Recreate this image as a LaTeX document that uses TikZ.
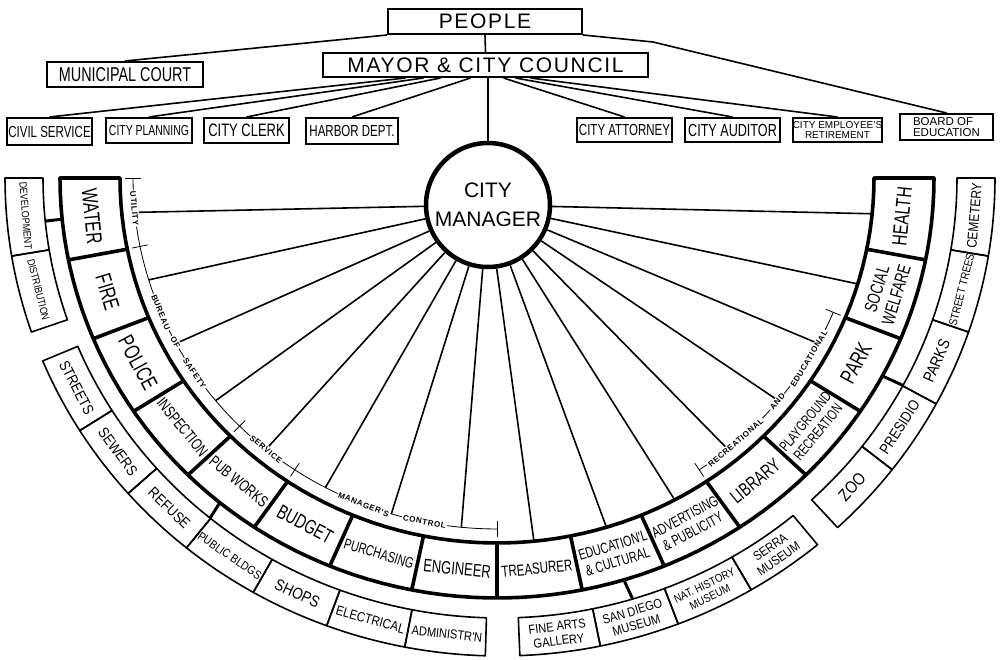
\documentclass[tikz,border=0pt]{standalone}
\usepackage{fontspec}
\setmainfont{Liberation Sans}
\newfontfamily\handfont[FakeStretch=0.72]{Liberation Sans}
\newfontfamily\subfont[FakeStretch=0.85]{Liberation Sans}
\newfontfamily\spacedfont[LetterSpace=8]{Liberation Sans}
\newfontfamily\tagfont[LetterSpace=8]{Liberation Sans}
\usetikzlibrary{calc}
\newcommand{\setsz}[1]{\fontsize{#1}{#1}\selectfont\setlength\baselineskip{1.12\baselineskip}}
\tikzset{
  topbox/.style={draw, line width=2pt, inner sep=0pt, align=center},
  conn/.style={line width=1.6pt},
  thickedge/.style={line width=3.6pt, line join=round},
  thinedge/.style={line width=1.6pt, line join=round},
  guide/.style={line width=0.8pt},
  tag/.style={font=\tagfont\bfseries\fontsize{8}{8}\selectfont, fill=white, inner sep=1.2pt},
}

\begin{document}
\begin{tikzpicture}[x=1pt, y=1pt]
  \useasboundingbox (0,0) rectangle (1002,-660);

  %--- People, council and court ---
  \node[topbox, font=\spacedfont\setsz{21}, minimum width=194pt, minimum height=25pt] (people) at (485,-21.5) {PEOPLE};
  \node[topbox, font=\spacedfont\setsz{21}, minimum width=325pt, minimum height=24pt] (mayor) at (485.5,-65) {MAYOR \& CITY COUNCIL};
  \node[topbox, font=\handfont\setsz{20}, minimum width=156pt, minimum height=25pt] (court) at (125,-74.5) {MUNICIPAL COURT};

  % Offices under the council
  \node[topbox, font=\handfont\setsz{16}, minimum width=85pt, minimum height=27pt] (civil) at (49.5,-131.5) {CIVIL SERVICE};
  \node[topbox, font=\handfont\setsz{14.5}, minimum width=86pt, minimum height=25pt] (planning) at (149,-130.5) {CITY PLANNING};
  \node[topbox, font=\handfont\setsz{18}, minimum width=85pt, minimum height=25pt] (clerk) at (246.5,-130.5) {CITY CLERK};
  \node[topbox, font=\handfont\setsz{16}, minimum width=92pt, minimum height=26pt] (harbor) at (352,-131) {HARBOR DEPT.};
  \node[topbox, font=\handfont\setsz{16}, minimum width=95pt, minimum height=24pt] (attorney) at (624.5,-130) {CITY ATTORNEY};
  \node[topbox, font=\handfont\setsz{17.5}, minimum width=95pt, minimum height=24pt] (auditor) at (732.5,-130) {CITY AUDITOR};
  \node[topbox, font=\fontsize{10}{10}\selectfont, minimum width=89pt, minimum height=24pt] (retirement) at (837.5,-130) {CITY EMPLOYEE'S\\RETIREMENT};
  \node[topbox, font=\fontsize{11.5}{10.5}\selectfont, align=left, minimum width=93pt, minimum height=26pt] (education) at (946.5,-127) {BOARD OF\\EDUCATION};

  \draw[conn] (people.south) -- (mayor.north);
  \draw[conn] (people.south west) -- (court.north);
  \coordinate (bend) at (653,-42);
  \draw[conn] (people.south east) -- (bend) -- (education.north);
  \foreach \tgt/\dx in {civil/-80, planning/-62, clerk/-45, harbor/-15, attorney/18, auditor/30, retirement/45}
    \draw[conn] ($(mayor.south)+(\dx,0)$) -- (\tgt.north);

  %--- City manager ---
  \node[circle, draw, line width=4.5pt, minimum size=124pt, inner sep=0pt, font=\fontsize{21}{29}\selectfont, align=center] (cm) at (488,-205) {CITY\\MANAGER};
  \draw[conn] (mayor.south -| cm.north) -- (cm.north);

  %--- Department ring ---
  \draw[thickedge] plot[domain=180:360, samples=90] ({497+377*cos(\x)},{-178+365*sin(\x)})
    -- plot[domain=360:180, samples=90] ({497+437*cos(\x)},{-178+420*sin(\x)}) -- cycle;
  \foreach \k in {1,...,15}{
    \pgfmathsetmacro\ang{180+11.25*\k}
    \draw[thickedge] ({497+377*cos(\ang)},{-178+365*sin(\ang)}) -- ({497+437*cos(\ang)},{-178+420*sin(\ang)});
  }

  % Departments and lines from the manager
  \foreach \i/\nm/\txt/\fs/\ea/\eb in {
      0/water/WATER/22/364/351,
      1/fire/FIRE/22/364/351,
      2/police/POLICE/22/364/351,
      3/inspection/INSPECTION/16/364/351,
      4/pubworks/PUB WORKS/16/364/351,
      5/budget/BUDGET/20/364/351,
      6/purchasing/PURCHASING/15/364/351,
      7/engineer/ENGINEER/18/364/351,
      8/treasurer/TREASURER/16/377/365,
      9/educational/{EDUCATION'L\\\& CULTURAL}/15/377/365,
      10/advertising/{ADVERTISING\\\& PUBLICITY}/15/377/365,
      11/library/LIBRARY/19/364/351,
      12/playground/{PLAYGROUND\\RECREATION}/14.5/364/351,
      13/park/PARK/22/364/351,
      14/welfare/{SOCIAL\\WELFARE}/18/377/365,
      15/health/HEALTH/21/377/365}{
    \pgfmathsetmacro\ang{185.625+11.25*\i}
    \pgfmathsetmacro\rot{\ang-270}
    \node[font=\handfont\setsz{\fs}, rotate=\rot, align=center] (\nm) at ({497+407*cos(\ang)},{-178+392.5*sin(\ang)}) {\txt};
    \coordinate (\nm-in) at ({497+\ea*cos(\ang)},{-178+\eb*sin(\ang)});
    \draw[conn] (cm) -- (\nm-in);
  }

  %--- Divisions (outer ring) ---
  \foreach \sa/\nm/\txt/\fs in {
      180/development/DEVELOPMENT/10.5,
      189.4/distribution/DISTRIBUTION/10.5,
      202.5/streets/STREETS/15,
      211.9/sewers/SEWERS/15,
      221.3/refuse/REFUSE/15,
      230.7/publicbldgs/PUBLIC BLDGS/12,
      240.1/shops/SHOPS/16,
      249.5/electrical/ELECTRICAL/13.5,
      258.9/administration/ADMINISTR'N/13,
      272.3/finearts/{FINE ARTS\\GALLERY}/13,
      281.7/sandiego/{SAN DIEGO\\MUSEUM}/13,
      291.1/nathistory/{NAT. HISTORY\\MUSEUM}/11.5,
      300.5/serra/{SERRA\\MUSEUM}/13,
      313/zoo/ZOO/17,
      322.4/presidio/PRESIDIO/15,
      331.8/parks/PARKS/16,
      341.2/streettrees/STREET TREES/11.5,
      350.6/cemetery/CEMETERY/14}{
    \pgfmathsetmacro\sb{\sa+9.4}
    \pgfmathsetmacro\ang{\sa+4.7}
    \pgfmathsetmacro\rot{\ang-270}
    \draw[thinedge] plot[domain=\sa:\sb, samples=12] ({500+457*cos(\x)},{-178+440*sin(\x)})
      -- plot[domain=\sb:\sa, samples=12] ({500+495*cos(\x)},{-178+478*sin(\x)}) -- cycle;
    \node[font=\subfont\setsz{\fs}, rotate=\rot, align=center] (\nm) at ({500+476*cos(\ang)},{-178+459*sin(\ang)}) {\txt};
  }

  % Links from departments to their divisions
  \foreach \ang in {185.625, 230.625, 286.875, 331.875}
    \draw[line width=3pt] ({497+437*cos(\ang)},{-178+420*sin(\ang)}) -- ({500+457*cos(\ang)},{-178+440*sin(\ang)});

  %--- Group brackets ---
  \draw[guide] plot[domain=180:270, samples=60] ({497+364*cos(\x)},{-178+351*sin(\x)});
  \draw[guide] plot[domain=303.75:337.5, samples=25] ({497+364*cos(\x)},{-178+351*sin(\x)});
  \foreach \ang in {180, 191.25, 225, 236.25, 270, 303.75, 337.5}
    \draw[guide] ({497+356*cos(\ang)},{-178+343*sin(\ang)}) -- ({497+372*cos(\ang)},{-178+359*sin(\ang)});

  \foreach \ang/\nm/\txt in {185/utility/UTILITY, 202.5/bureau/BUREAU, 207.9/of/OF, 213.8/safety/SAFETY,
      230.6/service/SERVICE, 248.5/managers/MANAGER'S, 258.5/control/CONTROL,
      311/recreational/RECREATIONAL, 320.4/and/AND, 329/educ/EDUCATIONAL}{
    \pgfmathsetmacro\rot{\ang-270}
    \node[tag, rotate=\rot] (tag-\nm) at ({497+364*cos(\ang)},{-178+351*sin(\ang)}) {\txt};
  }
\end{tikzpicture}
\end{document}
